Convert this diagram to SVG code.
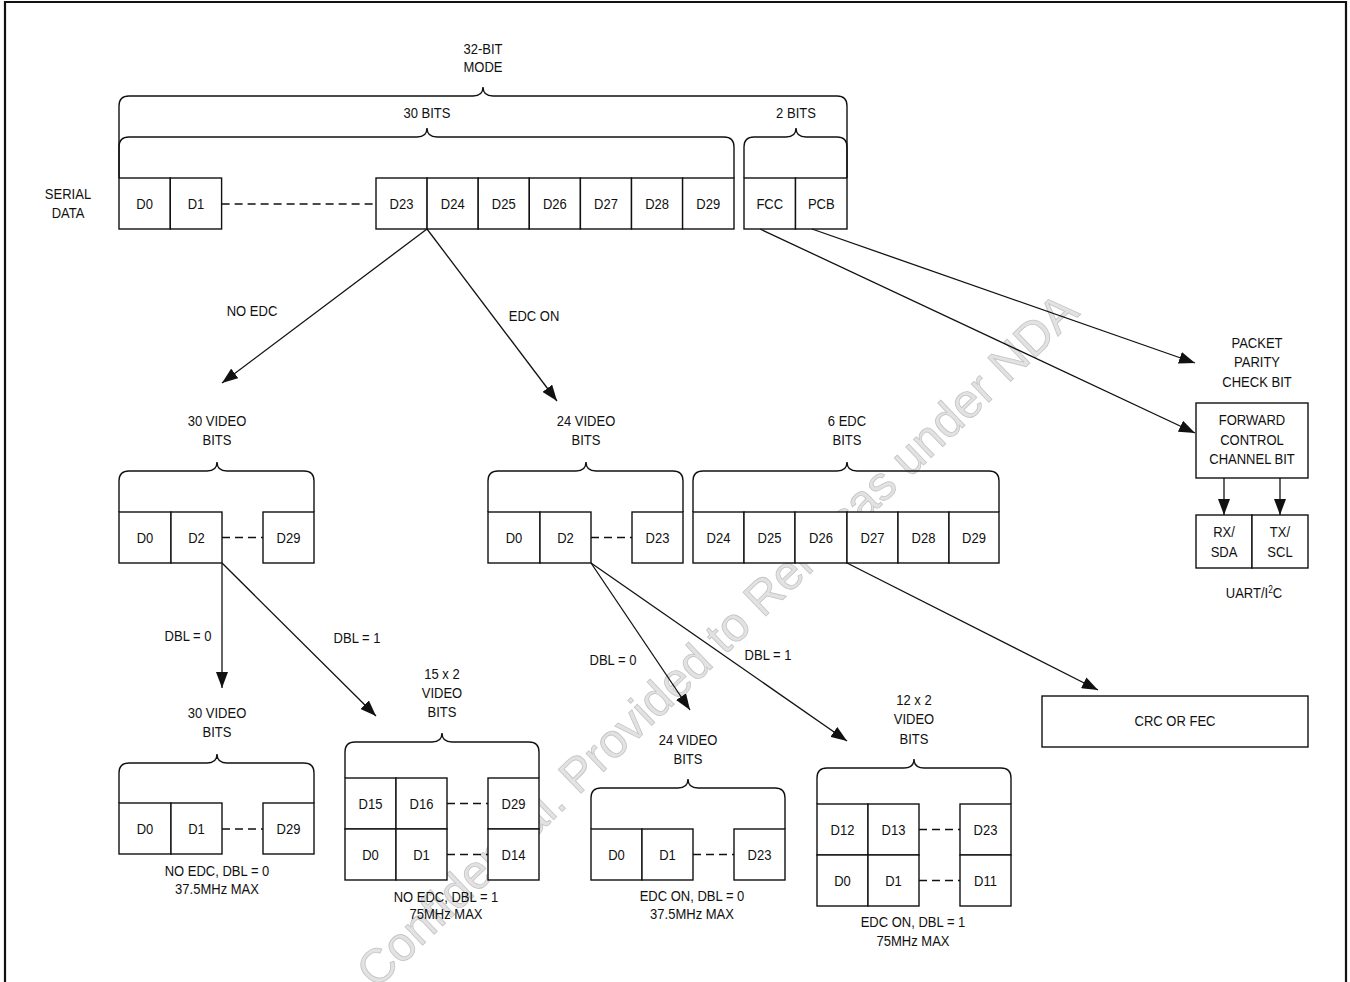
<svg xmlns="http://www.w3.org/2000/svg" width="1350" height="982" viewBox="0 0 1350 982">
<style>
text{font-family:"Liberation Sans",Arial,sans-serif;font-size:15.5px;fill:#111;text-anchor:middle}
text:not(.wm){transform-box:fill-box;transform-origin:50% 50%;transform:scaleX(0.84)}
.c{fill:#fff;stroke:#111;stroke-width:1.4}
.b{fill:none;stroke:#111;stroke-width:1.4}
.d{fill:none;stroke:#111;stroke-width:1.3;stroke-dasharray:8 5}
.a{fill:none;stroke:#111;stroke-width:1.3;marker-end:url(#ah)}
.wm{font-family:"Liberation Sans",Arial,sans-serif;font-size:48px;fill:#e2e2e2;stroke:#c4c4c4;stroke-width:0.8;text-anchor:start}
</style>
<defs>
<marker id="ah" viewBox="0 0 16 12" refX="16" refY="6" markerWidth="16" markerHeight="12" markerUnits="userSpaceOnUse" orient="auto">
<path d="M0,0 L16,6 L0,12 z" fill="#111"/>
</marker>
</defs>
<rect width="1350" height="982" fill="#fff"/>
<text class="wm" x="376" y="990" transform="rotate(-43.8 376 990)">Confidential. Provided to Renesas under NDA</text>
<path d="M5,982 V2 H1346 V982" fill="none" stroke="#111" stroke-width="2.2"/>

<g id="braces">
<path class="b" d="M119,178 V106 Q119,96 129,96 H473 C479,96 483,94 483,87 C483,94 487,96 493,96 H837 Q847,96 847,106 V178"/>
<path class="b" d="M119,178 V147 Q119,137 129,137 H417 C423,137 427,135 427,128 C427,135 431,137 437,137 H724 Q734,137 734,147 V178"/>
<path class="b" d="M744,178 V147 Q744,137 754,137 H786 C792,137 796,135 796,128 C796,135 800,137 806,137 H837 Q847,137 847,147 V178"/>
<path class="b" d="M119,512 V481 Q119,471 129,471 H207 C213,471 217,469 217,462 C217,469 221,471 227,471 H304 Q314,471 314,481 V512"/>
<path class="b" d="M488,512 V481 Q488,471 498,471 H576 C582,471 586,469 586,462 C586,469 590,471 596,471 H673 Q683,471 683,481 V512"/>
<path class="b" d="M693,512 V481 Q693,471 703,471 H837 C843,471 847,469 847,462 C847,469 851,471 857,471 H989 Q999,471 999,481 V512"/>
<path class="b" d="M119,803 V773 Q119,763 129,763 H207 C213,763 217,761 217,754 C217,761 221,763 227,763 H304 Q314,763 314,773 V803"/>
<path class="b" d="M345,778 V752 Q345,742 355,742 H432 C438,742 442,740 442,733 C442,740 446,742 452,742 H529 Q539,742 539,752 V778"/>
<path class="b" d="M591,829 V798 Q591,788 601,788 H678 C684,788 688,786 688,779 C688,786 692,788 698,788 H775 Q785,788 785,798 V829"/>
<path class="b" d="M817,804 V778 Q817,768 827,768 H904 C910,768 914,766 914,759 C914,766 918,768 924,768 H1001 Q1011,768 1011,778 V804"/>
</g>

<g id="labels-top">
<text x="483" y="54">32-BIT</text>
<text x="483" y="72">MODE</text>
<text x="427" y="118">30 BITS</text>
<text x="796" y="118">2 BITS</text>
<text x="68" y="199">SERIAL</text>
<text x="68" y="218">DATA</text>
</g>

<g id="serial-data">
<rect class="c" x="119" y="178" width="51.3" height="51"/><text x="144.6" y="209.5">D0</text>
<rect class="c" x="170.3" y="178" width="51.3" height="51"/><text x="196" y="209.5">D1</text>
<rect class="c" x="376" y="178" width="51.1" height="51"/><text x="401.5" y="209.5">D23</text>
<rect class="c" x="427.1" y="178" width="51.1" height="51"/><text x="452.7" y="209.5">D24</text>
<rect class="c" x="478.2" y="178" width="51.1" height="51"/><text x="503.8" y="209.5">D25</text>
<rect class="c" x="529.3" y="178" width="51.1" height="51"/><text x="554.9" y="209.5">D26</text>
<rect class="c" x="580.4" y="178" width="51.1" height="51"/><text x="606" y="209.5">D27</text>
<rect class="c" x="631.5" y="178" width="51.1" height="51"/><text x="657.1" y="209.5">D28</text>
<rect class="c" x="682.6" y="178" width="51.4" height="51"/><text x="708.3" y="209.5">D29</text>
<rect class="c" x="744" y="178" width="51.5" height="51"/><text x="769.8" y="209.5">FCC</text>
<rect class="c" x="795.5" y="178" width="51.5" height="51"/><text x="821.3" y="209.5">PCB</text>
<path class="d" d="M221.6,204 H376"/>
</g>

<g id="connectors">
<path class="a" d="M427,229 L222,383"/>
<path class="a" d="M427,229 L557,401"/>
<path class="a" d="M812,229 L1195,363"/>
<path class="a" d="M760,229 L1195,433"/>
<path class="a" d="M1224,478 V515"/>
<path class="a" d="M1280,478 V515"/>
<path class="a" d="M222,563 V688"/>
<path class="a" d="M222,563 L376,716"/>
<path class="a" d="M591,563 L690,710"/>
<path class="a" d="M591,563 L847,741"/>
<path class="a" d="M847,563 L1098,690"/>
</g>

<g id="connector-labels">
<text x="252" y="316">NO EDC</text>
<text x="534" y="321">EDC ON</text>
<text x="188" y="641">DBL = 0</text>
<text x="357" y="643">DBL = 1</text>
<text x="613" y="665">DBL = 0</text>
<text x="768" y="660">DBL = 1</text>
</g>

<g id="packet-parity">
<text x="1257" y="348">PACKET</text>
<text x="1257" y="367">PARITY</text>
<text x="1257" y="387">CHECK BIT</text>
</g>

<g id="forward-control">
<rect class="c" x="1196" y="403" width="112" height="75"/>
<text x="1252" y="425">FORWARD</text>
<text x="1252" y="445">CONTROL</text>
<text x="1252" y="464">CHANNEL BIT</text>
</g>

<g id="uart-i2c">
<rect class="c" x="1196" y="515" width="56" height="53"/>
<rect class="c" x="1252" y="515" width="56" height="53"/>
<text x="1224" y="537">RX/</text>
<text x="1224" y="557">SDA</text>
<text x="1280" y="537">TX/</text>
<text x="1280" y="557">SCL</text>
<text x="1254" y="598">UART/I<tspan font-size="10" dy="-5">2</tspan><tspan dy="5">C</tspan></text>
</g>

<g id="no-edc-30">
<text x="217" y="426">30 VIDEO</text>
<text x="217" y="445">BITS</text>
<rect class="c" x="119" y="512" width="52" height="51"/><text x="145" y="543">D0</text>
<rect class="c" x="171" y="512" width="51" height="51"/><text x="196.5" y="543">D2</text>
<rect class="c" x="263" y="512" width="51" height="51"/><text x="288.5" y="543">D29</text>
<path class="d" d="M222,537.5 H263"/>
</g>

<g id="edc-24">
<text x="586" y="426">24 VIDEO</text>
<text x="586" y="445">BITS</text>
<rect class="c" x="488" y="512" width="52" height="51"/><text x="514" y="543">D0</text>
<rect class="c" x="540" y="512" width="51" height="51"/><text x="565.5" y="543">D2</text>
<rect class="c" x="632" y="512" width="51" height="51"/><text x="657.5" y="543">D23</text>
<path class="d" d="M591,537.5 H632"/>
</g>

<g id="edc-6">
<text x="847" y="426">6 EDC</text>
<text x="847" y="445">BITS</text>
<rect class="c" x="693" y="512" width="51" height="51"/><text x="718.5" y="543">D24</text>
<rect class="c" x="744" y="512" width="51" height="51"/><text x="769.5" y="543">D25</text>
<rect class="c" x="795" y="512" width="52" height="51"/><text x="821" y="543">D26</text>
<rect class="c" x="847" y="512" width="51" height="51"/><text x="872.5" y="543">D27</text>
<rect class="c" x="898" y="512" width="51" height="51"/><text x="923.5" y="543">D28</text>
<rect class="c" x="949" y="512" width="50" height="51"/><text x="974" y="543">D29</text>
</g>

<g id="no-edc-dbl0">
<text x="217" y="718">30 VIDEO</text>
<text x="217" y="737">BITS</text>
<rect class="c" x="119" y="803" width="52" height="51"/><text x="145" y="834">D0</text>
<rect class="c" x="171" y="803" width="51" height="51"/><text x="196.5" y="834">D1</text>
<rect class="c" x="263" y="803" width="51" height="51"/><text x="288.5" y="834">D29</text>
<path class="d" d="M222,829 H263"/>
<text x="217" y="876">NO EDC, DBL = 0</text>
<text x="217" y="894">37.5MHz MAX</text>
</g>

<g id="no-edc-dbl1">
<text x="442" y="679">15 x 2</text>
<text x="442" y="698">VIDEO</text>
<text x="442" y="717">BITS</text>
<rect class="c" x="345" y="778" width="51" height="51"/><text x="370.5" y="809">D15</text>
<rect class="c" x="396" y="778" width="51" height="51"/><text x="421.5" y="809">D16</text>
<rect class="c" x="488" y="778" width="51" height="51"/><text x="513.5" y="809">D29</text>
<rect class="c" x="345" y="829" width="51" height="51"/><text x="370.5" y="860">D0</text>
<rect class="c" x="396" y="829" width="51" height="51"/><text x="421.5" y="860">D1</text>
<rect class="c" x="488" y="829" width="51" height="51"/><text x="513.5" y="860">D14</text>
<path class="d" d="M447,803.5 H488 M447,854.5 H488"/>
<text x="446" y="902">NO EDC, DBL = 1</text>
<text x="446" y="919">75MHz MAX</text>
</g>

<g id="edc-on-dbl0">
<text x="688" y="745">24 VIDEO</text>
<text x="688" y="764">BITS</text>
<rect class="c" x="591" y="829" width="51" height="51"/><text x="616.5" y="860">D0</text>
<rect class="c" x="642" y="829" width="51" height="51"/><text x="667.5" y="860">D1</text>
<rect class="c" x="734" y="829" width="51" height="51"/><text x="759.5" y="860">D23</text>
<path class="d" d="M693,854.5 H734"/>
<text x="692" y="901">EDC ON, DBL = 0</text>
<text x="692" y="919">37.5MHz MAX</text>
</g>

<g id="edc-on-dbl1">
<text x="914" y="705">12 x 2</text>
<text x="914" y="724">VIDEO</text>
<text x="914" y="744">BITS</text>
<rect class="c" x="817" y="804" width="51" height="51"/><text x="842.5" y="835">D12</text>
<rect class="c" x="868" y="804" width="51" height="51"/><text x="893.5" y="835">D13</text>
<rect class="c" x="960" y="804" width="51" height="51"/><text x="985.5" y="835">D23</text>
<rect class="c" x="817" y="855" width="51" height="51"/><text x="842.5" y="886">D0</text>
<rect class="c" x="868" y="855" width="51" height="51"/><text x="893.5" y="886">D1</text>
<rect class="c" x="960" y="855" width="51" height="51"/><text x="985.5" y="886">D11</text>
<path class="d" d="M919,829.5 H960 M919,880.5 H960"/>
<text x="913" y="927">EDC ON, DBL = 1</text>
<text x="913" y="946">75MHz MAX</text>
</g>

<g id="crc-fec">
<rect class="c" x="1042" y="696" width="266" height="51"/>
<text x="1175" y="726">CRC OR FEC</text>
</g>
</svg>
